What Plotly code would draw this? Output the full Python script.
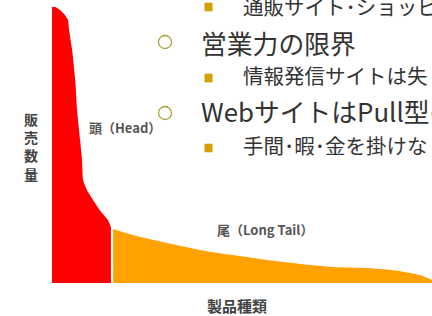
import plotly.graph_objects as go

# Head (red) curve: product rank (0-100) vs. sales (0-100)
head_x = [0, 0.8, 2.1, 3.4, 4.2, 4.5, 5.3, 6.1, 6.6, 7.4, 7.9, 8.2, 9.2, 10.8, 12.6, 14.7, 15.5]
head_y = [100, 100, 98.9, 97.1, 95.3, 91.7, 84.4, 73.6, 62.7, 51.8, 44.6, 37.3, 33.7, 30.1, 26.4, 22.8, 20.3]

# Long tail (orange) curve
tail_x = [16.1, 21.3, 30.3, 38.9, 47.6, 56.6, 65.3, 73.9, 82.9, 91.6, 96.8, 100]
tail_y = [19.6, 17.4, 14.5, 12.0, 10.1, 8.3, 6.9, 5.8, 5.4, 4.3, 2.9, 1.1]

labels = {"y": "販<br>売<br>数<br>量", "x": "製品種類", "head": "頭（Head）", "tail": "尾（Long Tail）"}
bullet_lines = [
    ("sq", "通販サイト･ショッピ"),
    ("ci", "営業力の限界"),
    ("sq", "情報発信サイトは失"),
    ("ci", "WebサイトはPull型の"),
    ("sq", "手間･暇･金を掛けな"),
]

W, H = 432, 316
L, R, T, B = 52, 0, 7, 33
pw, ph = W - L - R, H - T - B


def px(xp):
    return (xp - L) / pw


def py(yp):
    return (H - B - yp) / ph


fig = go.Figure()
fig.add_trace(go.Scatter(x=head_x, y=head_y, mode="lines", fill="tozeroy",
                         line=dict(width=0, shape="spline", smoothing=0.6, color="#FF0000"),
                         fillcolor="#FF0000", hoverinfo="skip"))
fig.add_trace(go.Scatter(x=tail_x, y=tail_y, mode="lines", fill="tozeroy",
                         line=dict(width=0, shape="spline", smoothing=0.6, color="#FFA200"),
                         fillcolor="#FFA200", hoverinfo="skip"))

ann = []
shapes = []
jp = "Noto Sans CJK JP"
rows = [(7, 6), (42, 42), (78, 75), (113, 110), (148, 145)]
for (kind, txt), (by, ty) in zip(bullet_lines, rows):
    if kind == "sq":
        shapes.append(dict(type="rect", xref="paper", yref="paper",
                           x0=px(204.5), x1=px(212.5), y0=py(by - 4.3), y1=py(by + 4.3),
                           fillcolor="#D4A000", line=dict(width=0)))
        ann.append(dict(text=txt, x=px(241), y=py(ty), xref="paper", yref="paper",
                        xanchor="left", yanchor="middle", showarrow=False,
                        font=dict(family=jp, size=20.5, color="#333333")))
    else:
        shapes.append(dict(type="circle", xref="paper", yref="paper",
                           x0=px(158.5), x1=px(171.5), y0=py(by - 6.5), y1=py(by + 6.5),
                           line=dict(color="#A9A23C", width=1.3)))
        ann.append(dict(text=txt, x=px(199), y=py(ty), xref="paper", yref="paper",
                        xanchor="left", yanchor="middle", showarrow=False,
                        font=dict(family=jp, size=25.8, color="#333333")))

lab_font = dict(family=jp, size=13, color="#555555")


def label(text, cx, cy, font):
    ann.append(dict(text="<b>" + text + "</b>", x=px(cx), y=py(cy), xref="paper", yref="paper",
                    xanchor="center", yanchor="middle", showarrow=False, font=font))


label(labels["y"], 31, 146, dict(family=jp, size=14, color="#444444"))
label(labels["x"], 237, 305, dict(family=jp, size=15, color="#444444"))
label(labels["head"], 125, 128, lab_font)
label(labels["tail"], 265, 229, lab_font)

fig.update_layout(
    width=W, height=H, margin=dict(l=L, r=R, t=T, b=B),
    paper_bgcolor="white", plot_bgcolor="white", showlegend=False,
    xaxis=dict(range=[0, 100], visible=False, fixedrange=True),
    yaxis=dict(range=[0, 100], visible=False, fixedrange=True),
    annotations=ann, shapes=shapes,
)
fig.write_html("out.html", config={"displayModeBar": False},
               post_script="document.body.style.margin='0';document.body.style.overflow='hidden';")
